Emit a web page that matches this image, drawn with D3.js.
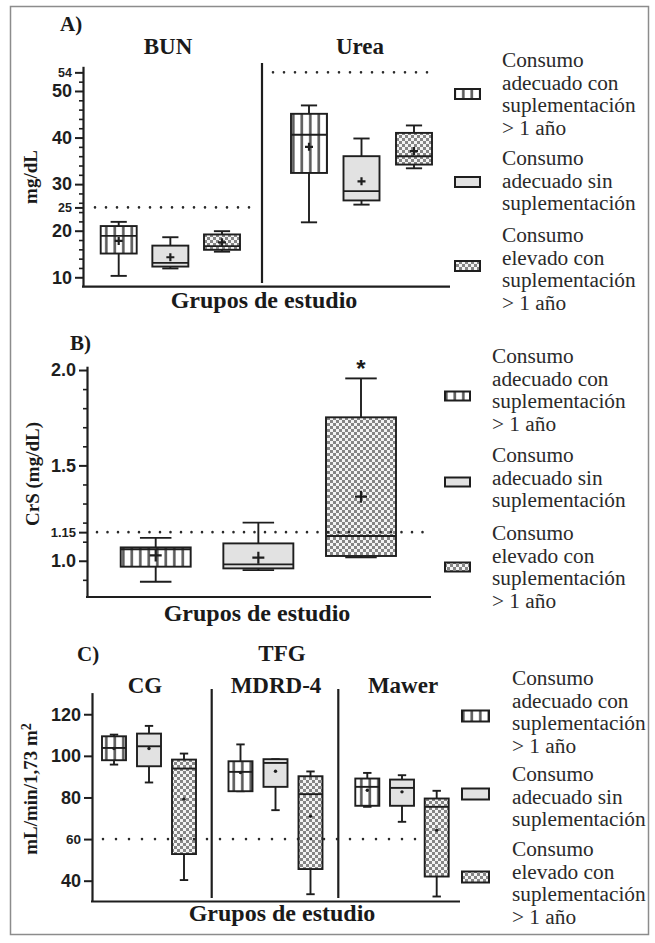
<!DOCTYPE html>
<html>
<head>
<meta charset="utf-8">
<script src="https://cdn.jsdelivr.net/npm/d3@7"></script>
<style>
  body { margin: 0; background: #fff; }
</style>
</head>
<body>
<svg id="fig" width="655" height="943"></svg>
<script>
// Study groups (same order in every panel)
const groups = ["adecuadoCon", "adecuadoSin", "elevadoCon"];
const legendLines = [
  ["Consumo", "adecuado con", "suplementación", "> 1 año"],
  ["Consumo", "adecuado sin", "suplementación"],
  ["Consumo", "elevado con", "suplementación", "> 1 año"]
];

// Box statistics per group: [min, q1, median, q3, max, mean]
const bun = [
  [10.3, 15.1, 18.9, 21.0, 21.9, 17.8],
  [11.9, 12.3, 13.1, 16.8, 18.6, 14.3],
  [15.5, 15.9, 16.7, 19.2, 19.9, 17.5]
];
const urea = [
  [21.8, 32.4, 40.6, 45.1, 46.9, 38.0],
  [25.6, 26.5, 28.5, 36.0, 39.8, 30.6],
  [33.4, 34.2, 36.0, 41.0, 42.6, 37.1]
];
const crs = [
  [0.89, 0.969, 1.06, 1.07, 1.12, 1.028],
  [0.951, 0.96, 0.981, 1.091, 1.20, 1.016],
  [1.018, 1.025, 1.13, 1.752, 1.956, 1.336]
];
const tfgCG = [
  [95.8, 97.9, 103.8, 109.4, 110.2, 103.5],
  [87.2, 95.0, 104.6, 110.7, 114.4, 103.5],
  [40.3, 52.8, 93.9, 98.2, 101.1, 79.2]
];
const tfgMDRD = [
  [83.0, 83.0, 92.3, 97.4, 105.5, 92.0],
  [73.9, 85.1, 96.6, 98.4, 98.4, 92.6],
  [33.5, 45.6, 81.6, 90.2, 92.5, 71.0]
];
const tfgMawer = [
  [75.5, 76.0, 85.1, 89.1, 91.8, 83.5],
  [68.3, 76.0, 84.6, 88.6, 90.7, 82.7],
  [32.4, 42.0, 75.5, 79.5, 83.2, 64.3]
];

// Axis ticks and reference limits
const ticksA = [10, 20, 30, 40, 50];
const ticksAsmall = [25, 54];
const minorA = d3.range(12, 54, 2).filter(v => v % 10 !== 0);
const refBUN = 25, refUrea = 54;
const ticksB = [1.0, 1.5, 2.0];
const ticksBsmall = [1.15];
const minorB = [0.9, 1.1, 1.2, 1.3, 1.4, 1.6, 1.7, 1.8, 1.9];
const refCrS = 1.15;
const ticksC = [40, 80, 100, 120];
const ticksCsmall = [60];
const refTFG = 60;

const SERIF = '"Liberation Serif"';
const SANS = '"Liberation Sans"';
const INK = "#1e1e1e";

const svg = d3.select("#fig");

// ---------- fill patterns ----------
const defs = svg.append("defs");
const stripes = defs.append("pattern").attr("id", "fill0")
  .attr("patternUnits", "userSpaceOnUse").attr("width", 8.5).attr("height", 10);
stripes.append("rect").attr("width", 8.5).attr("height", 10).attr("fill", "#fff");
stripes.append("rect").attr("x", 3).attr("width", 2.6).attr("height", 10).attr("fill", "#5a5a5a");

const checker = defs.append("pattern").attr("id", "fill2")
  .attr("patternUnits", "userSpaceOnUse").attr("width", 6).attr("height", 6);
checker.append("rect").attr("width", 6).attr("height", 6).attr("fill", "#f4f4f4");
checker.append("rect").attr("width", 3).attr("height", 3).attr("fill", "#858585");
checker.append("rect").attr("x", 3).attr("y", 3).attr("width", 3).attr("height", 3).attr("fill", "#858585");

const fills = ["url(#fill0)", "#e2e2e2", "url(#fill2)"];

// ---------- frame ----------
svg.append("rect").attr("x", 10.5).attr("y", 6.5).attr("width", 638).attr("height", 928)
  .attr("fill", "none").attr("stroke", "#8c8c8c").attr("stroke-width", 1.5);

// ---------- helpers ----------
function text(g, x, y, str, opts = {}) {
  return g.append("text").attr("x", x).attr("y", y)
    .attr("text-anchor", opts.anchor || "start")
    .style("font-family", opts.family || SERIF)
    .style("font-size", (opts.size || 20) + "px")
    .style("font-weight", opts.weight || "normal")
    .style("fill", opts.color || "#1a1a1a")
    .text(str);
}

function yAxis(g, x, y, major, small, minor, fmt, majorSize, smallSize) {
  const vals = major.concat(small);
  const ax = d3.axisLeft(y).tickValues(vals).tickSize(8).tickSizeOuter(0).tickPadding(3)
    .tickFormat(fmt);
  const a = g.append("g").attr("transform", `translate(${x},0)`).call(ax);
  a.select(".domain").attr("stroke", INK).attr("stroke-width", 2.2);
  a.selectAll(".tick line").attr("stroke", INK).attr("stroke-width", 2);
  a.selectAll(".tick text")
    .style("font-family", SANS).style("font-weight", "bold").style("fill", INK)
    .style("font-size", d => (small.includes(d) ? smallSize : majorSize) + "px");
  if (minor.length) {
    const m = g.append("g").attr("transform", `translate(${x},0)`)
      .call(d3.axisLeft(y).tickValues(minor).tickSize(4).tickFormat(""));
    m.select(".domain").remove();
    m.selectAll(".tick line").attr("stroke", INK).attr("stroke-width", 1.6);
  }
}

function hline(g, x1, x2, yv, w = 2.2) {
  g.append("line").attr("x1", x1).attr("x2", x2).attr("y1", yv).attr("y2", yv)
    .attr("stroke", INK).attr("stroke-width", w);
}
function vline(g, xv, y1, y2, w = 2.2) {
  g.append("line").attr("x1", xv).attr("x2", xv).attr("y1", y1).attr("y2", y2)
    .attr("stroke", INK).attr("stroke-width", w);
}
function dotted(g, x1, x2, yv, gap) {
  g.append("line").attr("x1", x1).attr("x2", x2).attr("y1", yv).attr("y2", yv)
    .attr("stroke", "#2a2a2a").attr("stroke-width", 2.6)
    .attr("stroke-linecap", "round").attr("stroke-dasharray", `0,${gap}`);
}

function boxes(g, x, y, data, boxW, capFrac, mean) {
  groups.forEach((key, i) => {
    const [mn, q1, md, q3, mx, mu] = data[i];
    const cx = x(key);
    const cap = boxW * capFrac / 2;
    const sw = 1.9;
    // whiskers
    g.append("line").attr("x1", cx).attr("x2", cx).attr("y1", y(mx)).attr("y2", y(q3))
      .attr("stroke", INK).attr("stroke-width", sw);
    g.append("line").attr("x1", cx).attr("x2", cx).attr("y1", y(q1)).attr("y2", y(mn))
      .attr("stroke", INK).attr("stroke-width", sw);
    [mn, mx].forEach(v => g.append("line").attr("x1", cx - cap).attr("x2", cx + cap)
      .attr("y1", y(v)).attr("y2", y(v)).attr("stroke", INK).attr("stroke-width", sw));
    // box
    g.append("rect").attr("x", cx - boxW / 2).attr("y", y(q3))
      .attr("width", boxW).attr("height", y(q1) - y(q3))
      .attr("fill", fills[i]).attr("stroke", INK).attr("stroke-width", sw);
    // median
    g.append("line").attr("x1", cx - boxW / 2).attr("x2", cx + boxW / 2)
      .attr("y1", y(md)).attr("y2", y(md)).attr("stroke", INK).attr("stroke-width", sw);
    // mean
    if (mean.type === "plus") {
      const s = mean.size / 2;
      g.append("path")
        .attr("d", `M${cx - s},${y(mu)}H${cx + s}M${cx},${y(mu) - s}V${y(mu) + s}`)
        .attr("stroke", INK).attr("stroke-width", mean.width);
    } else {
      g.append("circle").attr("cx", cx).attr("cy", y(mu)).attr("r", 1.7).attr("fill", INK);
    }
  });
}

function legend(g, swX, swW, swH, textX, swatchY, lineY) {
  legendLines.forEach((lines, i) => {
    g.append("rect").attr("x", swX).attr("y", swatchY[i] - swH / 2)
      .attr("width", swW).attr("height", swH)
      .attr("fill", fills[i]).attr("stroke", INK).attr("stroke-width", 2);
    lines.forEach((s, j) => text(g, textX, lineY[i][j], s, { size: 21.3, color: "#2a2a2a" }));
  });
}

function rotLabel(g, x, y, parts) {
  const t = g.append("text").attr("transform", `translate(${x},${y}) rotate(-90)`)
    .attr("text-anchor", "middle")
    .style("font-family", SERIF).style("font-weight", "bold").style("font-size", "19px")
    .style("fill", "#1a1a1a");
  parts.forEach(p => {
    const ts = t.append("tspan").text(p.t);
    if (p.sup) ts.attr("dy", -6).style("font-size", "14px");
  });
}

const lineSpacing = 22.5;
const block = (start, n) => d3.range(n).map(j => start + j * lineSpacing);

// ================= Panel A: BUN / Urea =================
{
  const g = svg.append("g");
  const y = d3.scaleLinear().domain([8, 55.3]).range([286.6, 66.3]);
  const xBun = d3.scalePoint().domain(groups).range([118.7, 222]);
  const xUrea = d3.scalePoint().domain(groups).range([309, 414]);

  text(g, 60, 31, "A)", { size: 21, weight: "bold" });
  text(g, 168, 54, "BUN", { size: 23, weight: "bold", anchor: "middle" });
  text(g, 360, 54, "Urea", { size: 23, weight: "bold", anchor: "middle" });

  yAxis(g, 83, y, ticksA, ticksAsmall, minorA, d3.format("d"), 18, 12.5);
  hline(g, 82, 450, y(8));
  vline(g, 262, 63, 283);

  boxes(g, xBun, y, bun, 36, 0.45, { type: "plus", size: 8, width: 2.2 });
  boxes(g, xUrea, y, urea, 36, 0.45, { type: "plus", size: 8, width: 2.2 });

  dotted(g, 95, 252, y(refBUN), 11);
  dotted(g, 273, 438, y(refUrea), 11);

  rotLabel(g, 37, 177, [{ t: "mg/dL" }]);
  text(g, 264, 308, "Grupos de estudio", { size: 24, weight: "bold", anchor: "middle" });

  legend(g, 455, 25, 10, 502, [94, 182, 266],
    [block(67, 4), block(165, 3), block(242, 4)]);
}

// ================= Panel B: CrS =================
{
  const g = svg.append("g");
  const y = d3.scaleLinear().domain([0.81, 2.02]).range([597, 366.2]);
  const x = d3.scalePoint().domain(groups).range([155.7, 361]);

  text(g, 70, 350, "B)", { size: 21, weight: "bold" });
  yAxis(g, 87, y, ticksB, ticksBsmall, minorB, d => (d === 1.15 ? "1.15" : d3.format(".1f")(d)), 18, 13);
  hline(g, 86, 431, y(0.81));

  boxes(g, x, y, crs, 70, 0.45, { type: "plus", size: 12, width: 2.2 });
  dotted(g, 97, 430, y(refCrS), 10.5);

  text(g, x("elevadoCon"), 377, "*", { size: 24, weight: "bold", anchor: "middle", family: SANS });

  rotLabel(g, 39, 474, [{ t: "CrS (mg/dL)" }]);
  text(g, 257, 621, "Grupos de estudio", { size: 24, weight: "bold", anchor: "middle" });

  legend(g, 445, 25, 9, 492, [396, 482, 567],
    [block(363, 4), block(462, 3), block(540, 4)]);
}

// ================= Panel C: TFG =================
{
  const g = svg.append("g");
  const y = d3.scaleLinear().domain([30, 130.4]).range([901.5, 692.6]);
  const xCG = d3.scalePoint().domain(groups).range([114, 184]);
  const xMD = d3.scalePoint().domain(groups).range([240.5, 310.5]);
  const xMW = d3.scalePoint().domain(groups).range([367.3, 436.7]);

  text(g, 77, 661, "C)", { size: 21, weight: "bold" });
  text(g, 282, 661, "TFG", { size: 23, weight: "bold", anchor: "middle" });
  text(g, 145, 693, "CG", { size: 23, weight: "bold", anchor: "middle" });
  text(g, 276, 693, "MDRD-4", { size: 23, weight: "bold", anchor: "middle" });
  text(g, 403, 693, "Mawer", { size: 23, weight: "bold", anchor: "middle" });

  yAxis(g, 92, y, ticksC, ticksCsmall, [], d3.format("d"), 18, 13.5);
  hline(g, 91, 460, y(30));
  vline(g, 211.7, 689, 898);
  vline(g, 338.3, 689, 898);

  const mean = { type: "dot" };
  boxes(g, xCG, y, tfgCG, 24, 0.35, mean);
  boxes(g, xMD, y, tfgMDRD, 24, 0.35, mean);
  boxes(g, xMW, y, tfgMawer, 24, 0.35, mean);

  dotted(g, 103, 420, y(refTFG), 13);

  rotLabel(g, 37, 789, [{ t: "mL/min/1,73 m" }, { t: "2", sup: true }]);
  text(g, 282, 921, "Grupos de estudio", { size: 24, weight: "bold", anchor: "middle" });

  legend(g, 462, 27, 11, 512, [716, 794, 877],
    [block(685, 4), block(781, 3), block(856, 4)]);
}
</script>
</body>
</html>
